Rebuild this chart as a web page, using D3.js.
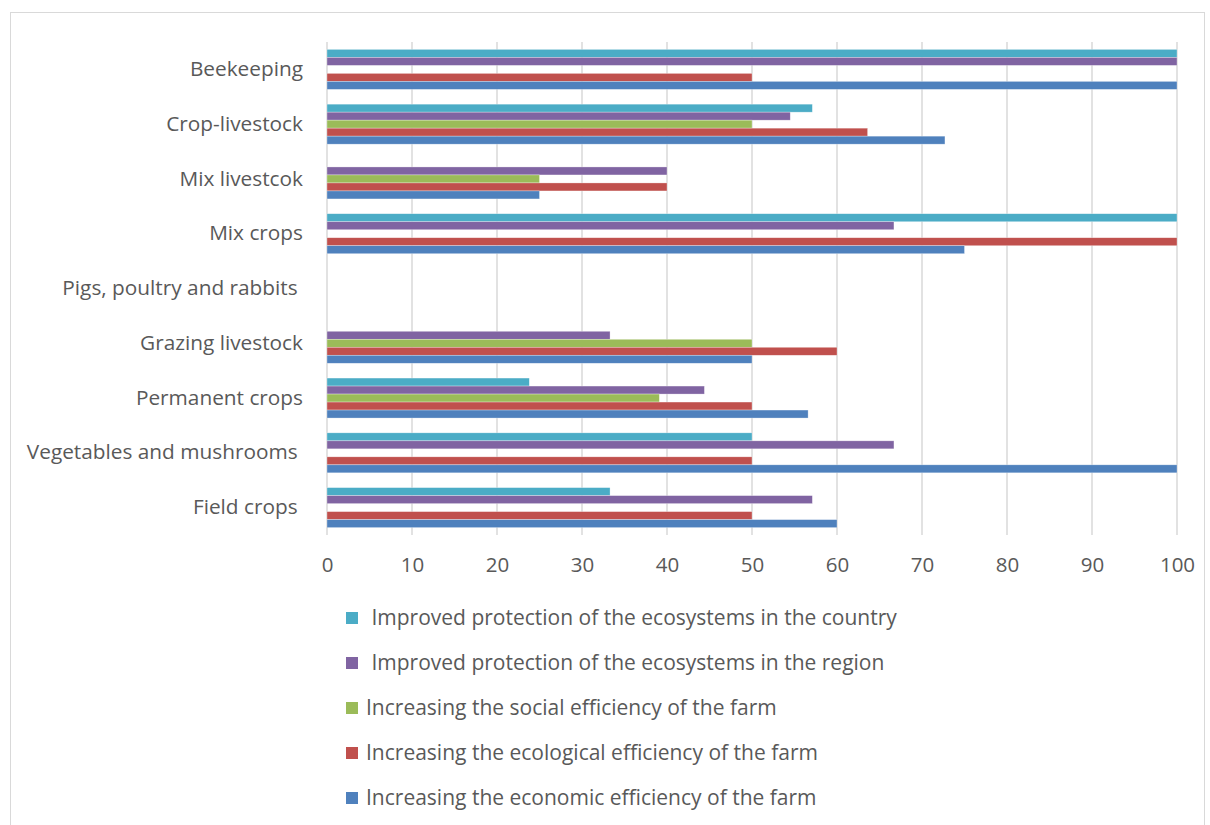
<!DOCTYPE html>
<html>
<head>
<meta charset="utf-8">
<script src="https://cdn.jsdelivr.net/npm/d3@7"></script>
<style>
  html, body { margin: 0; padding: 0; background: #fff; }
  svg text { font-family: "Open Sans", Lato, sans-serif; fill: #595959; white-space: pre; }
</style>
</head>
<body>
<svg id="chart" width="1210" height="825"></svg>
<script>
// Farm types, top to bottom
const categories = [
  "Beekeeping",
  "Crop-livestock",
  "Mix livestcok",
  "Mix crops",
  "Pigs, poultry and rabbits ",
  "Grazing livestock",
  "Permanent crops",
  "Vegetables and mushrooms ",
  "Field crops "
];

// One array per series, same order as categories (null = no bar)
const country    = [100, 57.1, null, 100, null, null, 23.8, 50, 33.3];
const region     = [100, 54.5, 40, 66.7, null, 33.3, 44.4, 66.7, 57.1];
const social     = [null, 50, 25, null, null, 50, 39.1, null, null];
const ecological = [50, 63.6, 40, 100, null, 60, 50, 50, 50];
const economic   = [100, 72.7, 25, 75, null, 50, 56.6, 100, 60];

const seriesNames = [
  " Improved protection of the ecosystems in the country",
  " Improved protection of the ecosystems in the region",
  "Increasing the social efficiency of the farm",
  "Increasing the ecological efficiency of the farm",
  "Increasing the economic efficiency of the farm"
];
const seriesValues = [country, region, social, ecological, economic];
const seriesColors = ["#4bacc6", "#8064a2", "#9bbb59", "#c0504d", "#4f81bd"];

const xTicks = [0, 10, 20, 30, 40, 50, 60, 70, 80, 90, 100];

const FONT = "'Open Sans', Lato, sans-serif";
const svg = d3.select("#chart");

// outer chart frame
svg.append("rect")
  .attr("x", 10.5).attr("y", 12.5)
  .attr("width", 1194).attr("height", 830)
  .attr("fill", "none").attr("stroke", "#d9d9d9").attr("stroke-width", 1);

const plot = { left: 327, right: 1177, top: 42, bottom: 535 };

const x = d3.scaleLinear().domain([0, 100]).range([plot.left, plot.right]);
const y0 = d3.scaleBand().domain(categories).range([plot.top, plot.bottom]).padding(0);
const inner = y0.bandwidth() * 0.135;
const y1 = d3.scaleBand().domain(d3.range(seriesNames.length))
  .range([inner, y0.bandwidth() - inner]).padding(0);

// vertical gridlines
svg.append("g").selectAll("line")
  .data(xTicks.slice(1))
  .join("line")
  .attr("x1", d => x(d)).attr("x2", d => x(d))
  .attr("y1", plot.top).attr("y2", plot.bottom)
  .attr("stroke", "#d9d9d9").attr("stroke-width", 1.5);

// category axis line
svg.append("line")
  .attr("x1", x(0)).attr("x2", x(0))
  .attr("y1", plot.top).attr("y2", plot.bottom)
  .attr("stroke", "#d9d9d9").attr("stroke-width", 1.5);

// bars
const rows = [];
categories.forEach((c, ci) => {
  seriesValues.forEach((vals, si) => {
    if (vals[ci] != null) rows.push({ c, si, v: vals[ci] });
  });
});

svg.append("g").selectAll("rect")
  .data(rows)
  .join("rect")
  .attr("x", x(0))
  .attr("y", d => y0(d.c) + y1(d.si))
  .attr("width", d => x(d.v) - x(0))
  .attr("height", y1.bandwidth())
  .attr("fill", d => seriesColors[d.si])
  .attr("stroke", "#ffffff").attr("stroke-opacity", 0.5).attr("stroke-width", 0.6);

// x axis
const xAxis = d3.axisBottom(x).tickValues(xTicks).tickSize(0).tickPadding(0);
const gx = svg.append("g").attr("transform", `translate(0,${plot.bottom})`).call(xAxis);
gx.select(".domain").remove();
gx.selectAll("text")
  .attr("dy", null).attr("y", 32).attr("dominant-baseline", "middle")
  .style("font-size", "20.5px").style("fill", "#595959")
  .style("font-family", FONT);

// y axis
const yAxis = d3.axisLeft(y0).tickSize(0).tickPadding(0);
const gy = svg.append("g").attr("transform", `translate(303,1)`).call(yAxis);
gy.select(".domain").remove();
gy.selectAll("text")
  .attr("dy", null).attr("x", 0).attr("dominant-baseline", "middle")
  .style("font-size", "20.8px").style("fill", "#595959")
  .style("font-family", FONT);

// legend
const legend = svg.append("g");
const items = legend.selectAll("g")
  .data(seriesNames)
  .join("g")
  .attr("transform", (d, i) => `translate(346,${618 + i * 45})`);
items.append("rect")
  .attr("x", 0).attr("y", -6).attr("width", 12).attr("height", 12)
  .attr("fill", (d, i) => seriesColors[i]);
items.append("text")
  .attr("x", 20).attr("y", 1)
  .attr("dominant-baseline", "middle")
  .style("font-size", "21px")
  .text(d => d);
</script>
</body>
</html>
